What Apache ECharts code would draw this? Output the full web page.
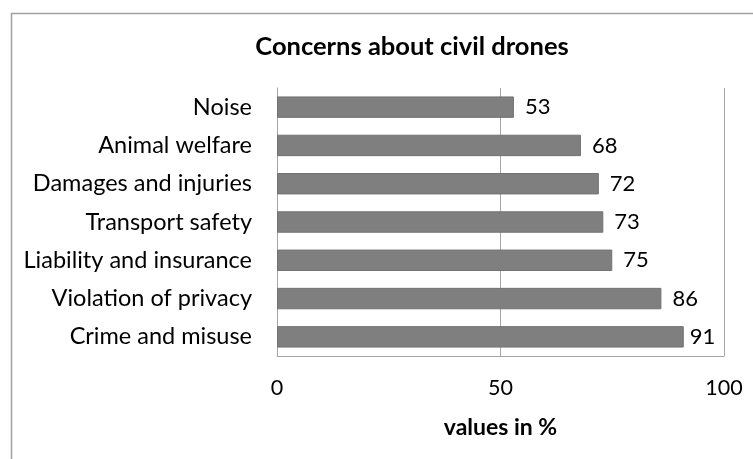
<!DOCTYPE html>
<html>
<head>
<meta charset="utf-8">
<script src="https://cdn.jsdelivr.net/npm/echarts@6/dist/echarts.min.js"></script>
<style>
  html, body { margin: 0; padding: 0; background: #fff; }
  #chart { width: 753px; height: 459px; }
</style>
</head>
<body>
<div id="chart"></div>
<script>
// Concerns listed top to bottom, share of respondents in percent
const categories = [
  'Noise',
  'Animal welfare',
  'Damages and injuries',
  'Transport safety',
  'Liability and insurance',
  'Violation of privacy',
  'Crime and misuse'
];
const values = [53, 68, 72, 73, 75, 86, 91];
const xTicks = [0, 50, 100];

const FONT = 'Lato, "Open Sans", sans-serif';
const LINE = '#a6a6a6';

// The longest bar's label sits a little closer so it stays inside the frame
const barData = values.map((v, i) =>
  i === values.length - 1 ? { value: v, label: { distance: 6 } } : v
);

const chart = echarts.init(document.getElementById('chart'), null, { renderer: 'canvas' });

chart.setOption({
  backgroundColor: '#ffffff',
  animation: false,
  graphic: [
    {
      type: 'rect',
      silent: true,
      shape: { x: 11.5, y: 13.5, width: 900, height: 600 },
      style: { fill: 'none', stroke: '#a0a0a0', lineWidth: 1.5 }
    },
    {
      type: 'text',
      x: 412,
      y: 47,
      style: {
        text: 'Concerns about civil drones',
        fontFamily: FONT,
        fontWeight: 'bold',
        fontSize: 25.5,
        fill: '#000',
        align: 'center',
        verticalAlign: 'middle'
      }
    }
  ],
  grid: { left: 277, right: 29, top: 88, bottom: 103, containLabel: false },
  xAxis: {
    type: 'value',
    min: xTicks[0],
    max: xTicks[xTicks.length - 1],
    interval: xTicks[1] - xTicks[0],
    name: 'values in %',
    nameLocation: 'middle',
    nameGap: 60,
    nameTextStyle: { fontFamily: FONT, fontWeight: 'bold', fontSize: 23, color: '#000' },
    axisLine: { show: true, lineStyle: { color: LINE, width: 1 } },
    axisTick: { show: false },
    axisLabel: { fontFamily: FONT, fontSize: 21.5, color: '#000', margin: 21 },
    splitLine: { show: true, lineStyle: { color: LINE, width: 1 } }
  },
  yAxis: {
    type: 'category',
    data: categories,
    inverse: true,
    axisLine: { show: true, lineStyle: { color: LINE, width: 1 } },
    axisTick: { show: false },
    axisLabel: { fontFamily: FONT, fontSize: 23.5, color: '#000', margin: 25 },
    splitLine: { show: false }
  },
  series: [
    {
      type: 'bar',
      data: barData,
      barCategoryGap: '44%',
      itemStyle: { color: '#7f7f7f', borderColor: '#737373', borderWidth: 1 },
      label: {
        show: true,
        position: 'right',
        distance: 11,
        fontFamily: FONT,
        fontSize: 22,
        color: '#000'
      }
    }
  ]
});
</script>
</body>
</html>
